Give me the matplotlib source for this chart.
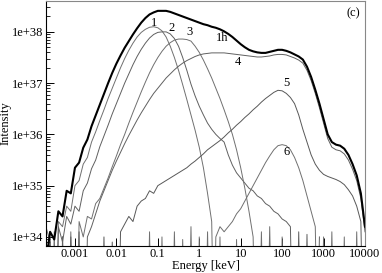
import matplotlib
matplotlib.use("Agg")
import matplotlib.pyplot as plt
import numpy as np

plt.rcParams['font.family'] = ['Liberation Serif', 'DejaVu Serif']
plt.rcParams['font.size'] = 9

# energy grid, log10(E/keV), 0.1 dex bins
log_e = np.round(np.arange(-3.7, 4.05, 0.1), 2)
n = np.nan

# log10 intensity (30 = empty bin)
s_1h = [33.5, 34.1, 33.95, 34.5, 34.4, 34.9, 34.85, 35.35, 35.45, 35.74,
        35.9, 36.16, 36.37, 36.58, 36.79, 37.0, 37.2, 37.38, 37.54, 37.69,
        37.82, 37.95, 38.07, 38.18, 38.27, 38.34, 38.38, 38.41, 38.41, 38.41,
        38.39, 38.36, 38.33, 38.3, 38.27, 38.24, 38.21, 38.18, 38.15, 38.13,
        38.1, 38.08, 38.05, 38.01, 37.96, 37.9, 37.83, 37.76, 37.7, 37.65,
        37.62, 37.6, 37.59, 37.59, 37.61, 37.63, 37.65, 37.65, 37.63, 37.6,
        37.56, 37.52, 37.46, 37.32, 37.12, 36.87, 36.6, 36.3, 36.0, 35.85,
        35.8, 35.78, 35.72, 35.6, 35.42, 35.2, 34.85, 34.2]
s_1 = [34.2, 33.9, 30, 34.3, 34.2, 34.6, 34.5, 35.0, 35.1, 35.42,
       35.55, 35.85, 36.05, 36.27, 36.48, 36.7, 36.9, 37.1, 37.3, 37.48,
       37.64, 37.78, 37.9, 37.99, 38.05, 38.09, 38.1, 38.08, 38.02, 37.9,
       37.72, 37.5, 37.25, 36.97, 36.68, 36.38, 36.08, 35.75, 35.35, 34.85,
       34.3, 30, 34.0, 30, 30, 30, 33.95, 30, n, n,
       n, n, n, n, n, n, n, n, n, n,
       n, n, n, n, n, n, n, n, n, n,
       n, n, n, n, n, n, n, n]
s_2 = [30, 34.0, 30, 34.2, 33.9, 34.4, 34.25, 34.6, 34.5, 34.9,
       35.05, 35.33, 35.5, 35.76, 35.97, 36.18, 36.4, 36.6, 36.8, 37.0,
       37.18, 37.36, 37.52, 37.66, 37.78, 37.88, 37.95, 37.99, 38.0, 38.0,
       37.96, 37.87, 37.72, 37.5, 37.25, 36.98, 36.75, 36.55, 36.38, 36.22,
       36.1, 36.0, 35.92, 35.85, 35.6, 35.4, 35.25, 35.15, 35.05, 34.95,
       34.9, 34.8, 34.75, 34.65, 34.6, 34.5, 34.45, 34.35, 34.3, 34.2,
       30, 34.1, 30, 34.05, 30, 30, 34.0, n, n, n,
       n, n, n, n, n, n, n, n]
s_3 = [34.0, 30, 34.1, 30, 34.0, 30, 34.1, 30, 34.3, 34.0,
       34.4, 34.35, 34.65, 34.75, 34.95, 35.15, 35.37, 35.58, 35.8, 36.0,
       36.22, 36.43, 36.63, 36.83, 37.02, 37.2, 37.36, 37.5, 37.62, 37.72,
       37.79, 37.84, 37.86, 37.86, 37.85, 37.82, 37.72, 37.6, 37.45, 37.28,
       37.1, 36.9, 36.7, 36.48, 36.25, 36.0, 35.7, 35.35, 34.95, 34.5,
       34.0, 30, 34.1, 30, 34.2, 30, 30, 34.0, 30, n,
       n, n, n, n, n, n, n, n, n, n,
       n, n, n, n, n, n, n, n]
s_4 = [n, n, n, n, 34.0, 30, 34.0, 30, 34.1, 30,
       34.0, 34.2, 34.45, 34.7, 34.9, 35.1, 35.3, 35.48, 35.65, 35.82,
       35.98, 36.13, 36.28, 36.42, 36.55, 36.68, 36.8, 36.9, 37.0, 37.1,
       37.18, 37.26, 37.33, 37.39, 37.44, 37.48, 37.52, 37.55, 37.57, 37.58,
       37.59, 37.59, 37.59, 37.59, 37.58, 37.57, 37.56, 37.55, 37.54, 37.53,
       37.52, 37.51, 37.51, 37.52, 37.53, 37.55, 37.56, 37.56, 37.55, 37.52,
       37.49, 37.45, 37.39, 37.25, 37.05, 36.8, 36.52, 36.22, 35.92, 35.75,
       35.7, 35.68, 35.62, 35.5, 35.32, 35.1, 34.75, 34.1]
s_5 = [n, n, n, n, n, n, n, n, n, n,
       n, n, n, 30, 34.0, 30, 33.9, 30, 34.1, 34.25,
       34.4, 34.3, 34.6, 34.7, 34.75, 34.9, 34.85, 35.0, 35.05, 35.1,
       35.15, 35.2, 35.25, 35.3, 35.35, 35.42, 35.48, 35.55, 35.62, 35.7,
       35.76, 35.82, 35.88, 35.95, 36.03, 36.1, 36.18, 36.25, 36.33, 36.4,
       36.48, 36.55, 36.63, 36.7, 36.76, 36.82, 36.86, 36.85, 36.8, 36.72,
       36.6, 36.38, 36.1, 35.85, 35.6, 35.42, 35.3, 35.22, 35.18, 35.15,
       35.12, 35.08, 35.02, 34.92, 34.8, 34.6, 34.3, 30]
s_6 = [n, n, n, n, n, n, n, n, n, n,
       n, n, n, n, n, n, n, n, n, n,
       n, n, n, n, 30, 34.1, 30, 30, 34.0, 30,
       30, 34.1, 30, 33.95, 30, 34.2, 30, 34.0, 30, 34.1,
       30, 34.0, 34.2, 34.1, 34.2, 34.3, 34.45, 34.55, 34.7, 34.85,
       35.0, 35.15, 35.3, 35.45, 35.58, 35.7, 35.78, 35.8, 35.78, 35.7,
       35.55, 35.35, 35.1, 34.8, 34.5, 34.2, 30, 34.0, 30, 34.1,
       30, 30, 34.0, 30, 30, 34.1, 30, n]

curves = [('1', s_1, '#707070'), ('2', s_2, '#606060'), ('3', s_3, '#707070'),
          ('4', s_4, '#606060'), ('5', s_5, '#585858'), ('6', s_6, '#707070')]

fig = plt.figure(figsize=(3.82, 2.73), dpi=100)
ax = fig.add_axes([0.1204, 0.1007, 0.8351, 0.8956])

energy = 10 ** log_e
for name, s, col in curves:
    ax.plot(energy, 10 ** np.array(s, dtype=float), color=col, lw=0.7)
ax.plot(energy, 10 ** np.array(s_1h), color='black', lw=1.5)

ax.set_xscale('log')
ax.set_yscale('log')
ax.set_xlim(2e-4, 1e4)
ax.set_ylim(6.8e33, 4e38)

ax.set_xticks([1e-3, 1e-2, 1e-1, 1, 10, 100, 1000, 10000])
ax.set_xticklabels(['0.001', '0.01', '0.1', '1', '10', '100', '1000', '10000'])
ax.set_yticks([1e34, 1e35, 1e36, 1e37, 1e38])
ax.set_yticklabels(['1e+34', '1e+35', '1e+36', '1e+37', '1e+38'])
ax.tick_params(which='both', direction='in')
ax.tick_params(which='major', length=6, width=0.7)
ax.tick_params(which='minor', length=3, width=0.6)
ax.tick_params(axis='x', which='minor', bottom=False)
ax.tick_params(axis='x', pad=2)
ax.tick_params(axis='y', pad=2)
for sp in ['top', 'right']:
    ax.spines[sp].set_color('#888888')
for sp in ax.spines.values():
    sp.set_linewidth(0.8)

ax.set_xlabel('Energy [keV]', labelpad=0)
ax.set_ylabel('Intensity', labelpad=0)

# curve labels
ax.text(0.081, 1.5e38, '1', ha='center', va='center')
ax.text(0.22, 1.2e38, '2', ha='center', va='center')
ax.text(0.57, 1.0e38, '3', ha='center', va='center')
ax.text(3.6, 7.6e37, '1h', ha='center', va='center')
ax.text(8.6, 2.6e37, '4', ha='center', va='center')
ax.text(125, 1.0e37, '5', ha='center', va='center')
ax.text(125, 4.5e35, '6', ha='center', va='center')
ax.text(0.985, 0.975, '(c)', transform=ax.transAxes, ha='right', va='top')

fig.savefig('out.png', dpi=100)
